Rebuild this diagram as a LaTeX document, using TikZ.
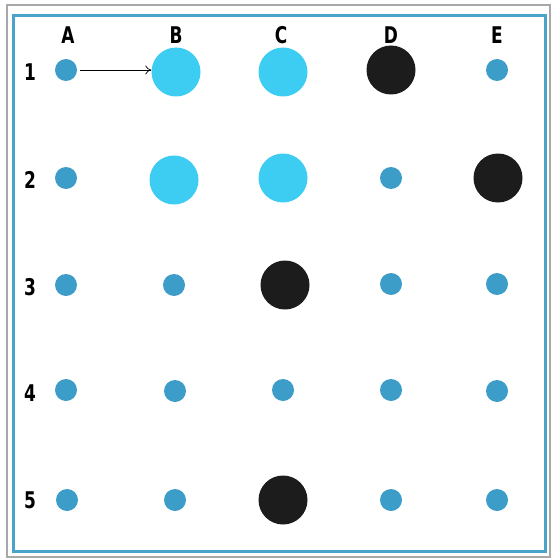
\documentclass[tikz,border=0pt]{standalone}
\usepackage{fontspec}
\newfontfamily\labelfont[FakeStretch=0.82]{DejaVu Sans Condensed}
\usetikzlibrary{arrows.meta}

\begin{document}
\begin{tikzpicture}[x=1pt,y=-1pt, every node/.style={inner sep=0pt},
  pin/.style={circle, fill=pc, minimum size=22pt},
  bigcyan/.style={circle, fill=cy, minimum size=49pt},
  bigblack/.style={circle, fill=bk, minimum size=49pt},
  lbl/.style={font=\labelfont\bfseries\fontsize{23}{25}\selectfont, text=black, anchor=center}]
\definecolor{pc}{HTML}{3D9DC9}\definecolor{cy}{HTML}{3ECDF2}
\definecolor{bk}{HTML}{1C1C1C}\definecolor{fr}{HTML}{4BA3C7}
\definecolor{gr}{HTML}{A8A8A8}
\useasboundingbox (0,0) rectangle (552,559);
% frames
\draw[draw=gr, line width=2pt] (7,5) rectangle (550,557);
\draw[draw=fr, line width=3pt, fill=white] (13.5,16) rectangle (545,551);
% column and row labels
\node[lbl] (colA) at (68,35) {A};
\node[lbl] (colB) at (176,35) {B};
\node[lbl] (colC) at (281,35) {C};
\node[lbl] (colD) at (391,35) {D};
\node[lbl] (colE) at (497,35) {E};
\node[lbl] (row1) at (30,72) {1};
\node[lbl] (row2) at (30,180) {2};
\node[lbl] (row3) at (30,287) {3};
\node[lbl] (row4) at (30,393) {4};
\node[lbl] (row5) at (30,500) {5};
% row 1
\node[pin] (a1) at (66,70) {};
\node[bigcyan] (b1) at (176,72) {};
\node[bigcyan] (c1) at (283,72) {};
\node[bigblack] (d1) at (391,70) {};
\node[pin] (e1) at (497,70) {};
% row 2
\node[pin] (a2) at (66,178) {};
\node[bigcyan] (b2) at (174,180) {};
\node[bigcyan] (c2) at (283,178) {};
\node[pin] (d2) at (391,178) {};
\node[bigblack] (e2) at (498,178) {};
% row 3
\node[pin] (a3) at (66,285) {};
\node[pin] (b3) at (174,285) {};
\node[bigblack] (c3) at (285,285) {};
\node[pin] (d3) at (391,284) {};
\node[pin] (e3) at (497,284) {};
% row 4
\node[pin] (a4) at (66,390) {};
\node[pin] (b4) at (175,391) {};
\node[pin] (c4) at (283,390) {};
\node[pin] (d4) at (391,390) {};
\node[pin] (e4) at (497,391) {};
% row 5
\node[pin] (a5) at (67,500) {};
\node[pin] (b5) at (175,500) {};
\node[bigblack] (c5) at (283,500) {};
\node[pin] (d5) at (391,500) {};
\node[pin] (e5) at (497,500) {};
% arrow
\draw[line width=0.7pt, -{To[length=6pt,width=9pt]}] ([xshift=3pt]a1.east) -- (b1.west |- a1.east);
\end{tikzpicture}
\end{document}
